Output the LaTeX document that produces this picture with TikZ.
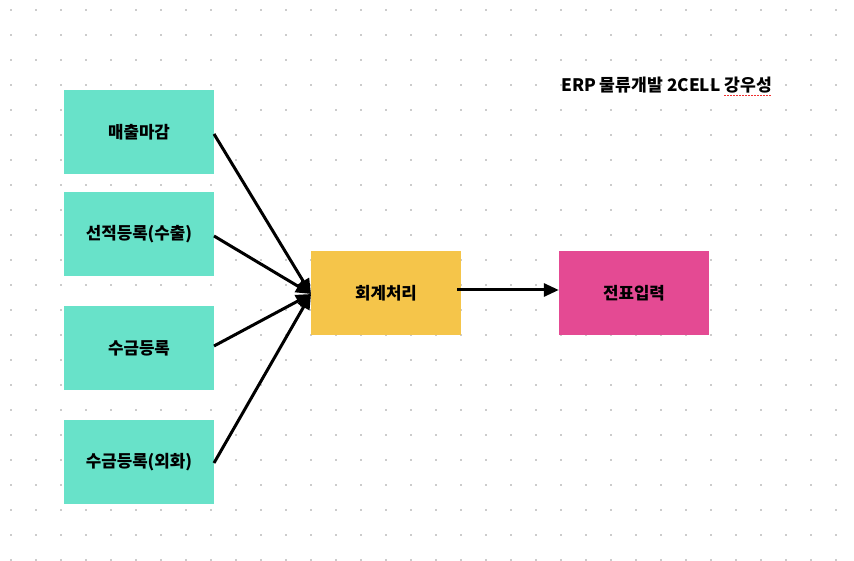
\documentclass[tikz,border=0pt]{standalone}
\usepackage{fontspec}
\setmainfont{Noto Sans CJK KR}
\usetikzlibrary{arrows.meta}
\definecolor{mint}{HTML}{68E2C9}
\definecolor{gold}{HTML}{F5C54A}
\definecolor{berry}{HTML}{E44A93}
\definecolor{dotgray}{HTML}{CCCCCC}
\definecolor{squiggle}{HTML}{F03030}
\tikzset{
  box/.style={minimum width=150pt, minimum height=84pt, inner sep=0pt, font=\bfseries\fontsize{16.8}{20}\selectfont, text=black},
  greenbox/.style={box, fill=mint},
  conn/.style={line width=3pt, -{Triangle[length=15pt,width=13pt]}},
}
\begin{document}
\begin{tikzpicture}[x=1pt,y=-1pt]
\fill[white] (0,0) rectangle (854,561);
\useasboundingbox (0,0) rectangle (854,561);
\foreach \i in {0,...,33}{
  \foreach \j in {0,...,22}{
    \fill[dotgray] ({11+25*\i-1},{10+25*\j-1}) rectangle ++(2,2);
  }
}
\node[greenbox] (a) at (139,132) {매출마감};
\node[greenbox] (b) at (139,234) {선적등록(수출)};
\node[greenbox] (c) at (139,348) {수금등록};
\node[greenbox] (d) at (139,462) {수금등록(외화)};
\node[box, fill=gold] (e) at (386,293) {회계처리};
\node[box, fill=berry] (f) at (634,293) {전표입력};
\coordinate (t) at (311,294);
\draw[conn] (214,134) -- (t);
\draw[conn] (214,236) -- (t);
\draw[conn] (214,346) -- (t);
\draw[conn] (214,463) -- (t);
\coordinate (s) at (457,290);
\draw[conn] (s) -- (f.west |- s);
\node[anchor=west, font=\bfseries\fontsize{17.2}{20}\selectfont, inner sep=0pt] (title) at (561,85) {ERP 물류개발 2CELL 강우성};
\draw[squiggle, line width=1.5pt, dash pattern=on 1.5pt off 1.5pt] ([xshift=-48pt,yshift=-2pt]title.south east) -- ([yshift=-2pt]title.south east);
\end{tikzpicture}
\end{document}
